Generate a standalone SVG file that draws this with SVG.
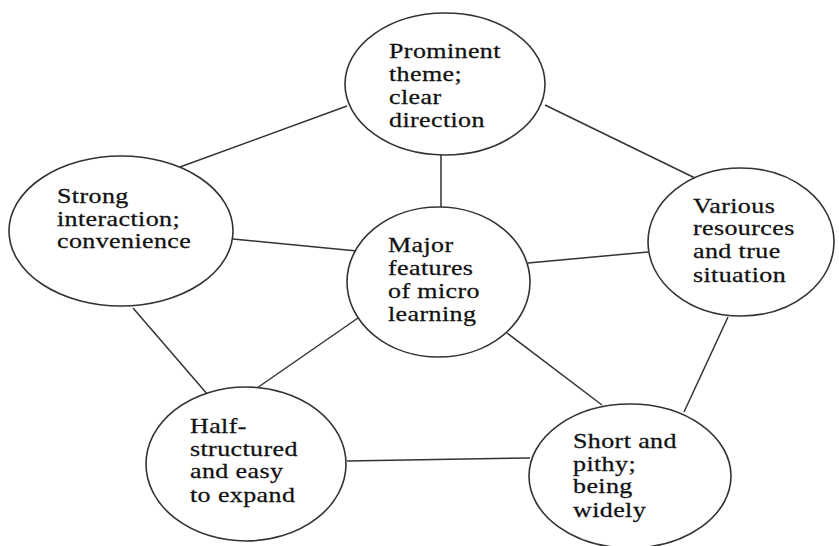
<svg xmlns="http://www.w3.org/2000/svg" width="839" height="546" viewBox="0 0 839 546">
  <style>
    .node ellipse { fill: #ffffff; stroke: #333333; stroke-width: 1.6; }
    .node text { font-family: "Liberation Serif", "Times New Roman", serif; font-size: 20px; letter-spacing: 0.3px; fill: #111111; stroke: #111111; stroke-width: 0.25; }
    #connectors line { stroke: #333333; stroke-width: 1.5; }
  </style>
  <rect width="839" height="546" fill="#ffffff"/>

  <!-- connectors between the feature nodes -->
  <g id="connectors">
    <line x1="180" y1="167" x2="347" y2="106"/>
    <line x1="545" y1="105" x2="695" y2="178"/>
    <line x1="441" y1="155" x2="441" y2="207"/>
    <line x1="233" y1="239" x2="357" y2="251"/>
    <line x1="528" y1="263" x2="648" y2="252"/>
    <line x1="133" y1="308" x2="208" y2="395"/>
    <line x1="358" y1="318" x2="257" y2="388"/>
    <line x1="507" y1="333" x2="602" y2="405"/>
    <line x1="728" y1="317" x2="684" y2="412"/>
    <line x1="347" y1="461" x2="530" y2="458"/>
  </g>

  <!-- labels are widened horizontally: each line is placed with translate, then scaled -->
  <g id="node-theme" class="node">
    <ellipse cx="445" cy="84" rx="100" ry="71"/>
    <text transform="translate(389 58) scale(1.3 1)">Prominent</text>
    <text transform="translate(389 81) scale(1.3 1)">theme;</text>
    <text transform="translate(389 104) scale(1.3 1)">clear</text>
    <text transform="translate(389 127) scale(1.3 1)">direction</text>
  </g>

  <g id="node-interaction" class="node">
    <ellipse cx="121" cy="231" rx="112" ry="75"/>
    <text transform="translate(57 203) scale(1.3 1)">Strong</text>
    <text transform="translate(57 226) scale(1.3 1)">interaction;</text>
    <text transform="translate(57 248) scale(1.3 1)">convenience</text>
  </g>

  <g id="node-center" class="node">
    <ellipse cx="438.5" cy="282" rx="91.5" ry="75"/>
    <text transform="translate(388 252) scale(1.3 1)">Major</text>
    <text transform="translate(388 275) scale(1.3 1)">features</text>
    <text transform="translate(388 298) scale(1.3 1)">of micro</text>
    <text transform="translate(388 321) scale(1.3 1)">learning</text>
  </g>

  <g id="node-resources" class="node">
    <ellipse cx="741" cy="242" rx="93" ry="74"/>
    <text transform="translate(693 213) scale(1.3 1)">Various</text>
    <text transform="translate(693 235) scale(1.3 1)">resources</text>
    <text transform="translate(693 258) scale(1.3 1)">and true</text>
    <text transform="translate(693 282) scale(1.3 1)">situation</text>
  </g>

  <g id="node-structure" class="node">
    <ellipse cx="246" cy="464" rx="100" ry="77"/>
    <text transform="translate(190 433) scale(1.3 1)">Half-</text>
    <text transform="translate(190 456) scale(1.3 1)">structured</text>
    <text transform="translate(190 478) scale(1.3 1)">and easy</text>
    <text transform="translate(190 502) scale(1.3 1)">to expand</text>
  </g>

  <g id="node-short" class="node">
    <ellipse cx="630" cy="476" rx="101" ry="72"/>
    <text transform="translate(573 448) scale(1.3 1)">Short and</text>
    <text transform="translate(573 471) scale(1.3 1)">pithy;</text>
    <text transform="translate(573 493) scale(1.3 1)">being</text>
    <text transform="translate(573 517) scale(1.3 1)">widely</text>
  </g>
</svg>
